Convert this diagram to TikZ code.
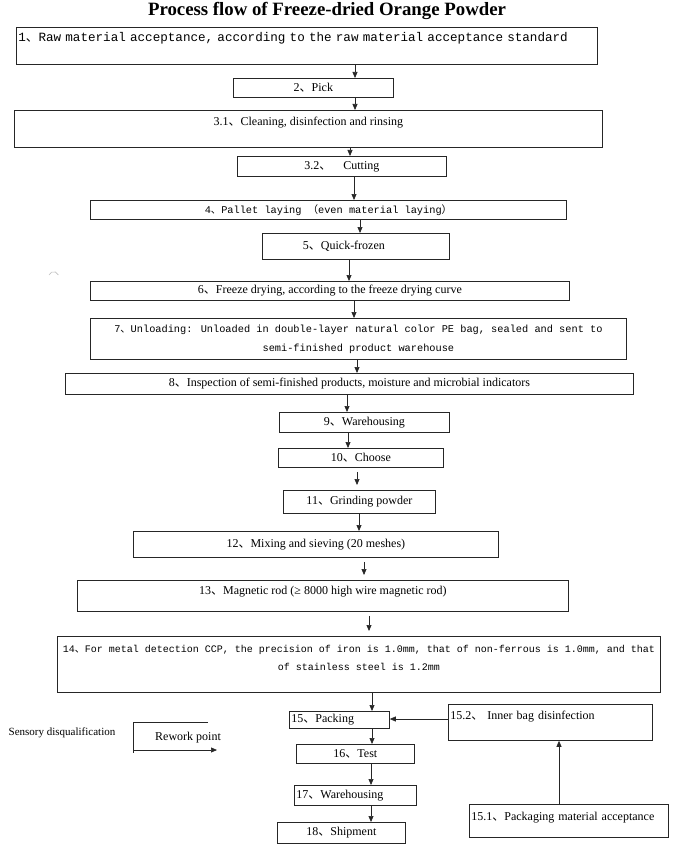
\documentclass[tikz,border=0pt]{standalone}
\usepackage{fontspec}
\setmainfont{Liberation Serif}
\newfontfamily\simmono{Liberation Mono}
\newfontfamily\cjk{Noto Sans CJK SC}
\newcommand\dun{{\cjk 、}}
\usetikzlibrary{arrows.meta}
\begin{document}
\begin{tikzpicture}[x=1pt,y=-1pt,
    box/.style={draw=black!85,line width=0.8pt,anchor=north west,inner xsep=2pt,inner ysep=0pt,align=center,font=\fontsize{12}{14}\selectfont},
    mono/.style={font=\simmono\fontsize{10.3}{19}\selectfont},
    arr/.style={draw=black!85,line width=0.7pt,-{Triangle[length=6pt,width=5pt]}},
    gap/.style={shorten <=4pt,shorten >=5pt}]
    \useasboundingbox (0,0) rectangle (674,845);
    %% title
    \node[font=\bfseries\fontsize{18.8}{20}\selectfont] (title) at (327,11) {Process flow of Freeze-dried Orange Powder};
    %% main line
    \node[box,font=\simmono\fontsize{12.6}{14}\selectfont,text width=577pt,align=left,minimum height=37pt,text height=8pt,text depth=16pt] (n1) at (16,27) {1\dun Raw material acceptance, according to the raw material acceptance standard};
    \node[box,minimum width=160pt,minimum height=19pt] (n2) at (233,78) {2\dun Pick};
    \node[box,minimum width=588pt,minimum height=37pt,text height=8pt,text depth=15pt] (n31) at (14,110) {3.1\dun Cleaning, disinfection and rinsing};
    \node[box,minimum width=209pt,minimum height=20pt] (n32) at (237,156) {3.2\dun\quad Cutting};
    \node[box,mono,minimum width=476pt,minimum height=19pt] (n4) at (90,200) {4\dun Pallet laying {\cjk （}even material laying{\cjk ）}};
    \node[box,minimum width=187pt,minimum height=26pt] (n5) at (262,233) {5\dun Quick-frozen\hspace{24pt}};
    \node[box,minimum width=479pt,minimum height=19pt] (n6) at (90,281) {6\dun Freeze drying, according to the freeze drying curve};
    \node[box,mono,minimum width=536pt,minimum height=41pt] (n7) at (90,318) {7\dun Unloading: Unloaded in double-layer natural color PE bag, sealed and sent to\\semi-finished product warehouse};
    \node[box,minimum width=568pt,minimum height=21pt] (n8) at (65,373) {8\dun Inspection of semi-finished products, moisture and microbial indicators};
    \node[box,minimum width=170pt,minimum height=20pt] (n9) at (279,412) {9\dun Warehousing};
    \node[box,minimum width=165pt,minimum height=19pt] (n10) at (278,448) {10\dun Choose};
    \node[box,minimum width=152pt,minimum height=23pt] (n11) at (283,490) {11\dun Grinding powder};
    \node[box,minimum width=365pt,minimum height=26pt] (n12) at (133,531) {12\dun Mixing and sieving (20 meshes)};
    \node[box,minimum width=491pt,minimum height=31pt,text height=8pt,text depth=11pt] (n13) at (77,580) {13\dun Magnetic rod (≥ 8000 high wire magnetic rod)};
    \node[box,font=\simmono\fontsize{10}{18}\selectfont,minimum width=603pt,minimum height=56pt,text height=26pt,text depth=14pt] (n14) at (57,636) {14\dun For metal detection CCP, the precision of iron is 1.0mm, that of non-ferrous is 1.0mm, and that\\of stainless steel is 1.2mm};
    \node[box,text width=96pt,align=left,minimum height=17pt] (n15) at (289,711) {15\dun Packing};
    \node[box,minimum width=118pt,minimum height=19pt] (n16) at (296,744) {16\dun Test};
    \node[box,text width=118pt,align=left,minimum height=20pt] (n17) at (294,785) {17\dun Warehousing};
    \node[box,minimum width=128pt,minimum height=21pt] (n18) at (277,822) {18\dun Shipment};
    %% packaging branch
    \node[box,text width=200pt,align=left,minimum height=36pt,text height=8pt,text depth=14pt] (n152) at (448,704) {15.2\dun\ Inner bag disinfection};
    \node[box,text width=195pt,align=left,minimum height=33pt,text height=8pt,text depth=9pt] (n151) at (469,804) {15.1\dun Packaging material acceptance};
    %% rework legend
    \node[font=\fontsize{11}{13}\selectfont] (sensory) at (62,733) {Sensory disqualification};
    \node[font=\fontsize{12}{14}\selectfont] (rework) at (188,738) {Rework point};
    \coordinate (rw1) at (208,722);
    \coordinate (rw2) at (133,722);
    \coordinate (rw3) at (133,753);
    \coordinate (rw4) at (133,750);
    \coordinate (rw5) at (217,750);
    \draw[draw=black!85,line width=0.8pt] (rw1) -- (rw2) -- (rw3);
    \draw[arr] (rw4) -- (rw5);
    %% stray mark
    \draw[black!25,line width=0.6pt] (49,275) arc[start angle=200,end angle=340,radius=5];
    %% arrows
    \draw[arr] (n1.south -| 355,0) -- (n2.north -| 355,0);
    \draw[arr] (n2.south -| 355,0) -- (n31.north -| 355,0);
    \draw[arr] (n31.south -| 350,0) -- (n32.north -| 350,0);
    \draw[arr] (n32.south -| 354,0) -- (n4.north -| 354,0);
    \draw[arr] (n4.south -| 360,0) -- (n5.north -| 360,0);
    \draw[arr] (n5.south -| 349,0) -- (n6.north -| 349,0);
    \draw[arr] (n6.south -| 354,0) -- (n7.north -| 354,0);
    \draw[arr] (n7.south -| 357,0) -- (n8.north -| 357,0);
    \draw[arr] (n8.south -| 347,0) -- (n9.north -| 347,0);
    \draw[arr] (n9.south -| 348,0) -- (n10.north -| 348,0);
    \draw[arr,gap] (n10.south -| 357,0) -- (n11.north -| 357,0);
    \draw[arr] (n11.south -| 359,0) -- (n12.north -| 359,0);
    \draw[arr,gap] (n12.south -| 364,0) -- (n13.north -| 364,0);
    \draw[arr,gap] (n13.south -| 369,0) -- (n14.north -| 369,0);
    \draw[arr] (n14.south -| 372,0) -- (n15.north -| 372,0);
    \draw[arr] (n15.south -| 372,0) -- (n16.north -| 372,0);
    \draw[arr] (n16.south -| 371,0) -- (n17.north -| 371,0);
    \draw[arr] (n17.south -| 371,0) -- (n18.north -| 371,0);
    \draw[arr] (n152.west |- 0,719) -- (n15.east |- 0,719);
    \draw[arr] (n151.north -| 559,0) -- (n152.south -| 559,0);
\end{tikzpicture}
\end{document}
